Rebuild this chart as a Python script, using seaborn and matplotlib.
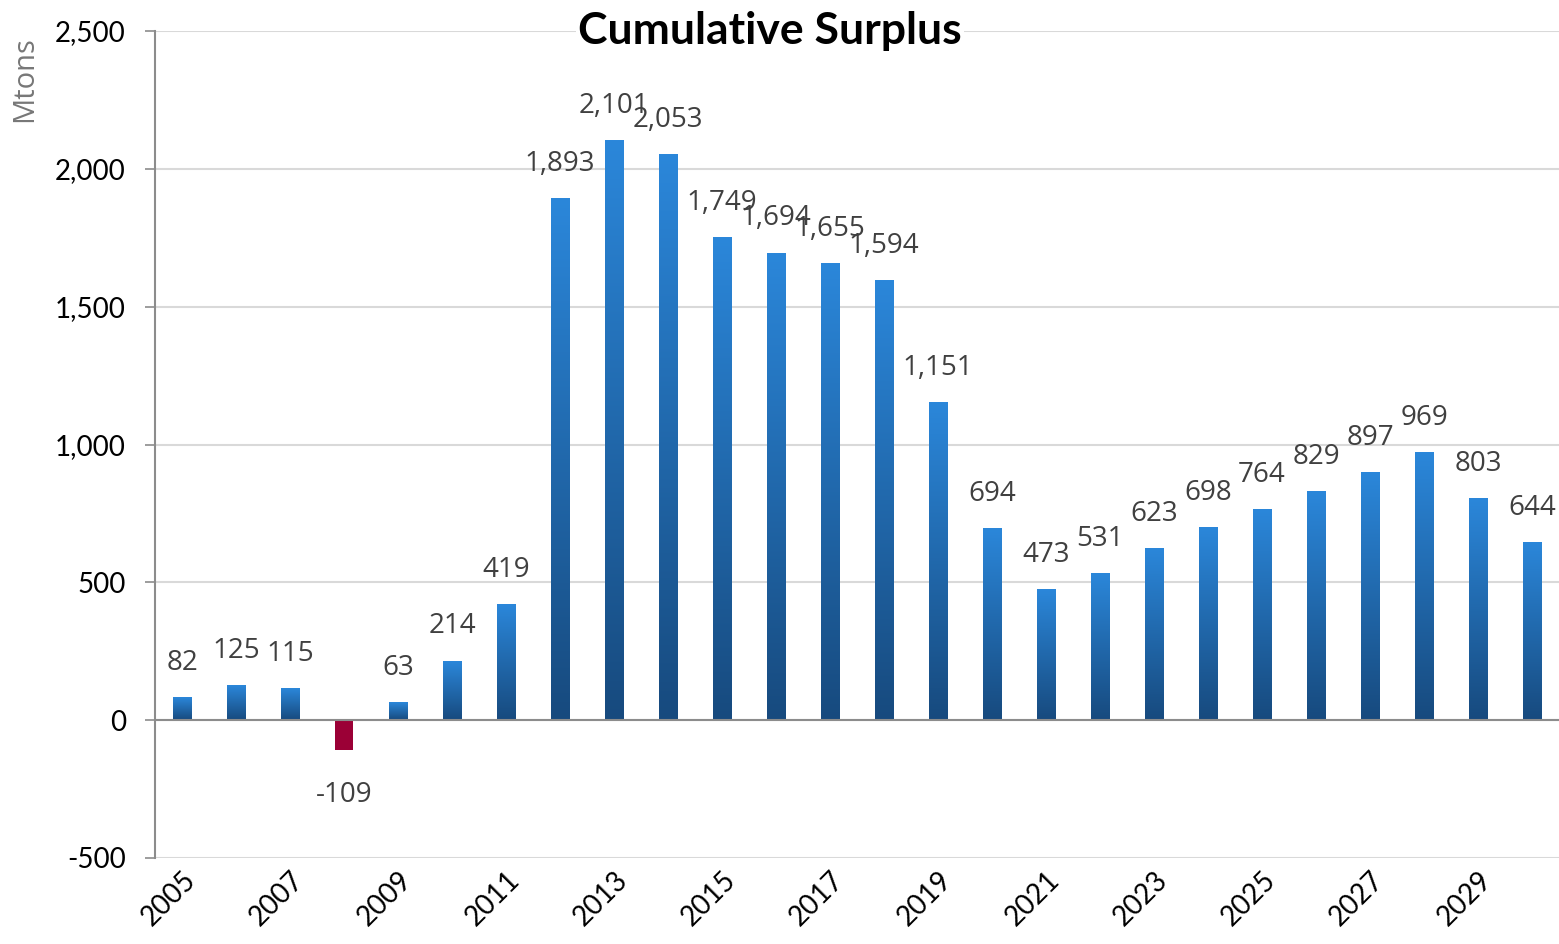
import numpy as np
import pandas as pd
import matplotlib
matplotlib.use("Agg")
import matplotlib.pyplot as plt
from matplotlib.colors import LinearSegmentedColormap
import seaborn as sns

years = list(range(2005, 2031))
surplus = [82, 125, 115, -109, 63, 214, 419, 1893, 2101, 2053, 1749, 1694, 1655,
           1594, 1151, 694, 473, 531, 623, 698, 764, 829, 897, 969, 803, 644]
y_ticks = [-500, 0, 500, 1000, 1500, 2000, 2500]

pos_top = "#2b87da"
pos_bottom = "#174a7e"
neg_color = "#9b0036"

df = pd.DataFrame({"year": [str(y) for y in years], "surplus": surplus})

sns.set_theme(style="white")
plt.rcParams["font.family"] = ["Lato", "DejaVu Sans"]

fig = plt.figure(figsize=(15.59, 9.44), dpi=100)
ax = fig.add_axes([155 / 1559, 1 - 858 / 944, 1 - 155 / 1559, (858 - 31) / 944])

sns.barplot(data=df, x="year", y="surplus", ax=ax, width=0.34,
            color=pos_top, saturation=1, edgecolor="none", zorder=3)

# vertical gradient inside each positive bar, solid fill for negative ones
cmap = LinearSegmentedColormap.from_list("bar_grad", [pos_bottom, pos_top])
grad = np.linspace(0, 1, 256).reshape(-1, 1)
for patch, val in zip(ax.patches, surplus):
    x0, w = patch.get_x(), patch.get_width()
    if val >= 0:
        patch.set_facecolor("none")
        ax.imshow(grad, cmap=cmap, aspect="auto", origin="lower",
                  extent=[x0, x0 + w, 0, val], zorder=3, interpolation="bilinear")
    else:
        patch.set_facecolor(neg_color)

ax.set_xlim(-0.5, len(years) - 0.5)
ax.set_ylim(-500, 2500)
ax.set_yticks(y_ticks)
ax.set_yticklabels([f"{t:,}" for t in y_ticks], fontsize=20, color="black")

ax.set_xticks(range(len(years)))
ax.set_xticklabels([str(y) if (y - 2005) % 2 == 0 else "" for y in years],
                   rotation=45, ha="right", va="top", rotation_mode="anchor",
                   fontsize=20, color="black")
ax.tick_params(axis="x", length=0, pad=6)
ax.tick_params(axis="y", length=7, width=1.2, color="#8c8c8c", direction="out",
               left=True, pad=14)

for t in y_ticks:
    ax.axhline(t, color="#d9d9d9", lw=1.5, zorder=1)
ax.axhline(0, color="#8c8c8c", lw=1.5, zorder=4)

for side in ["top", "right", "bottom"]:
    ax.spines[side].set_visible(False)
ax.spines["left"].set_color("#8c8c8c")
ax.spines["left"].set_linewidth(1.5)

ax.set_xlabel("")
ax.set_ylabel("")
fig.text(25 / 1559, 1 - 79 / 944, "Mtons", rotation=90, ha="center", va="center",
         fontsize=21, color="#777777", family=["Open Sans", "DejaVu Sans"])

label_font = dict(fontsize=20, color="#404040", family=["Open Sans", "DejaVu Sans"],
                  ha="center", va="center", zorder=5)
for i, val in enumerate(surplus):
    offset = 25 if val >= 0 else -32
    ax.annotate(f"{val:,}", (i, val), xytext=(0, offset), textcoords="offset points",
                **label_font)

fig.text(770 / 1559, 1 - 31 / 944, "Cumulative Surplus", ha="center", va="center",
         fontsize=32, fontweight="bold", color="black",
         bbox=dict(facecolor="white", edgecolor="none", pad=2))

fig.savefig("out.png", dpi=100)
